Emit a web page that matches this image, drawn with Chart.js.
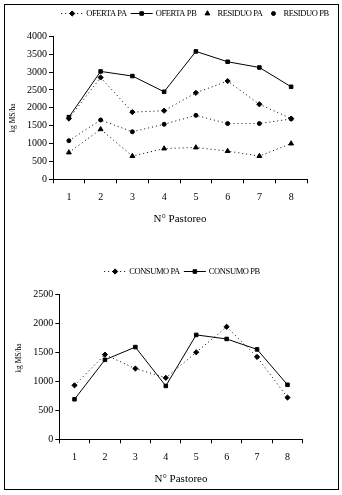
<!DOCTYPE html>
<html><head><meta charset="utf-8">
<script src="https://cdn.jsdelivr.net/npm/chart.js@4/dist/chart.umd.min.js"></script>
<style>
html,body{margin:0;padding:0;background:#fff;width:342px;height:495px;overflow:hidden}
#frame{position:absolute;left:4px;top:4px;width:333px;height:484px;border:1px solid #000}
canvas{position:absolute}
#c1{left:5px;top:5px}
#c2{left:5px;top:245px}
</style></head><body>
<div id="frame"></div>
<canvas id="c1" width="332" height="235" style="width:332px;height:235px"></canvas>
<canvas id="c2" width="332" height="244" style="width:332px;height:244px"></canvas>
<script>
// ---- data ----
const categories = ['1','2','3','4','5','6','7','8'];
const ofertaPA  = [1700, 2850, 1880, 1920, 2420, 2750, 2100, 1700];
const ofertaPB  = [1740, 3020, 2890, 2450, 3580, 3290, 3130, 2590];
const residuoPA = [750, 1400, 650, 860, 890, 790, 650, 1000];
const residuoPB = [1080, 1660, 1330, 1540, 1790, 1560, 1560, 1690];
const consumoPA = [930, 1460, 1220, 1060, 1500, 1940, 1420, 720];
const consumoPB = [690, 1370, 1590, 920, 1800, 1730, 1550, 940];
const xTitle = 'N° Pastoreo';
const yTitle = 'kg MS/ha';

const FONT = '"Liberation Serif", "Times New Roman", serif';
const DOT = [1,3];
const RADIUS = {rect:2.5, rectRot:2.6, triangle:2.8, circle:2};

function ds(label, data, style, line, dashed){
  return {label, data, borderColor:'#000', backgroundColor:'#000', borderWidth:1,
    borderDash: dashed ? DOT : [], showLine:true, pointStyle:style, pointRadius:RADIUS[style],
    pointBackgroundColor:'#000', pointBorderColor:'#000', pointBorderWidth:1, tension:0,
    legendLine:line, legendDash: dashed};
}

const legendPlugin = {
  id:'customLegend',
  afterDraw(chart, args, opts){
    const ctx = chart.ctx;
    ctx.save();
    ctx.font = opts.fontSize + 'px ' + FONT;
    ctx.letterSpacing = opts.spacing + 'px';
    const gapT = 3, gapI = 4;
    const items = chart.data.datasets.map(d => ({d, sw: d.legendLine ? 22 : 14, w: ctx.measureText(d.label).width}));
    let total = 0;
    items.forEach((it,i)=>{ total += it.sw + gapT + it.w + (i<items.length-1?gapI:0); });
    let x = opts.centerX - total/2;
    const y = opts.y;
    items.forEach(it=>{
      const d = it.d, sw = it.sw;
      ctx.strokeStyle = '#000'; ctx.fillStyle = '#000'; ctx.lineWidth = 1;
      if (d.legendLine){
        ctx.setLineDash(d.legendDash ? DOT : []);
        ctx.beginPath(); ctx.moveTo(x, y+0.5); ctx.lineTo(x+sw, y+0.5); ctx.stroke();
        ctx.setLineDash([]);
      }
      Chart.helpers.drawPoint(ctx, {pointStyle:d.pointStyle, radius:d.pointRadius, rotation:0, borderWidth:1}, x+sw/2, y+0.5);
      ctx.fillStyle = '#000';
      ctx.textBaseline = 'middle'; ctx.textAlign = 'left';
      ctx.fillText(d.label, x+sw+gapT, y+1);
      x += sw + gapT + it.w + gapI;
    });
    ctx.restore();
  }
};

const yTitlePlugin = {
  id:'yTitle',
  afterDraw(chart, args, opts){
    const ctx = chart.ctx;
    ctx.save();
    ctx.font = opts.fontSize + 'px ' + FONT;
    ctx.fillStyle = '#000';
    ctx.translate(opts.x, opts.y);
    ctx.rotate(-Math.PI/2);
    ctx.textAlign = 'center'; ctx.textBaseline = 'middle';
    ctx.fillText(yTitle, 0, 0);
    ctx.restore();
  }
};

function options(cfg){
  return {
    responsive:false, animation:false, devicePixelRatio:1,
    layout:{padding:{left:0, right:cfg.padRight, top:cfg.padTop, bottom:0}},
    plugins:{
      legend:{display:false}, tooltip:{enabled:false},
      customLegend:{centerX:cfg.legendX, y:cfg.legendY, fontSize:8.5, spacing:-0.4},
      yTitle:{x:cfg.yTitleX, y:cfg.yTitleY, fontSize:7.5}
    },
    scales:{
      x:{
        type:'category', offset:true,
        grid:{display:true, offset:true, drawOnChartArea:false, drawTicks:true, tickLength:4, color:'#000'},
        border:{display:true, color:'#000', width:1},
        ticks:{color:'#000', font:{family:FONT, size:10}, padding:8, maxRotation:0, autoSkip:false},
        title:{display:true, text:xTitle, color:'#000', font:{family:FONT, size:11}, padding:{top:0, bottom:cfg.xTitlePad}},
        afterFit(s){ s.height = cfg.xHeight; }
      },
      y:{
        min:0, max:cfg.max,
        grid:{display:true, drawOnChartArea:false, drawTicks:true, tickLength:4, color:'#000'},
        border:{display:true, color:'#000', width:1},
        ticks:{stepSize:500, color:'#000', font:{family:FONT, size:10}, padding:2, callback:v => String(v)},
        afterFit(s){ s.width = cfg.yWidth; }
      }
    }
  };
}

new Chart(document.getElementById('c1'), {
  type:'line',
  data:{labels:categories, datasets:[
    ds('OFERTA PA', ofertaPA, 'rectRot', true, true),
    ds('OFERTA PB', ofertaPB, 'rect', true, false),
    ds('RESIDUO PA', residuoPA, 'triangle', false, true),
    ds('RESIDUO PB', residuoPB, 'circle', false, true)
  ]},
  options: options({padRight:30, padTop:31.4, xHeight:60.7, xTitlePad:14.4, yWidth:48, max:4000,
    legendX:190, legendY:8, yTitleX:8.5, yTitleY:113}),
  plugins:[legendPlugin, yTitlePlugin]
});

new Chart(document.getElementById('c2'), {
  type:'line',
  data:{labels:categories, datasets:[
    ds('CONSUMO PA', consumoPA, 'rectRot', true, true),
    ds('CONSUMO PB', consumoPB, 'rect', true, false)
  ]},
  options: options({padRight:34.3, padTop:49.3, xHeight:49.7, xTitlePad:3.4, yWidth:54.3, max:2500,
    legendX:177, legendY:26, yTitleX:14.5, yTitleY:113}),
  plugins:[legendPlugin, yTitlePlugin]
});
</script>
</body></html>
